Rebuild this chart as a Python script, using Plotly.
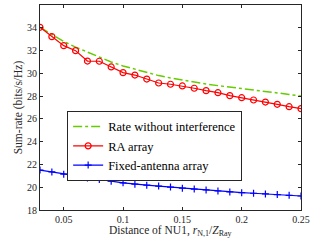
import plotly.graph_objects as go

distance = [0.03, 0.04, 0.05, 0.06, 0.07, 0.08, 0.09, 0.10, 0.11, 0.12, 0.13, 0.14,
            0.15, 0.16, 0.17, 0.18, 0.19, 0.20, 0.21, 0.22, 0.23, 0.24, 0.25]
rate_no_interf = [34.04, 33.40, 32.80, 32.30, 31.85, 31.40, 31.00, 30.65, 30.35, 30.05,
                  29.80, 29.60, 29.40, 29.22, 29.06, 28.92, 28.80, 28.70, 28.56, 28.42,
                  28.28, 28.14, 28.00]
ra_array = [34.04, 33.22, 32.43, 31.99, 31.08, 31.06, 30.56, 30.06, 29.85, 29.50, 29.15,
            29.04, 28.89, 28.69, 28.48, 28.30, 28.04, 27.86, 27.66, 27.48, 27.28, 27.07, 26.90]
fixed_array = [21.51, 21.34, 21.15, 20.99, 20.82, 20.67, 20.53, 20.39, 20.27, 20.18, 20.10,
               20.01, 19.92, 19.84, 19.76, 19.67, 19.59, 19.52, 19.47, 19.41, 19.35, 19.29, 19.23]
x_ticks = [0.05, 0.1, 0.15, 0.2, 0.25]
x_tick_labels = ["0.05", "0.1", "0.15", "0.2", "0.25"]
y_ticks = [18, 20, 22, 24, 26, 28, 30, 32, 34, 36]
x_title = "Distance of NU1, <i>r</i><sub>N,1</sub>/<i>Z</i><sub>Ray</sub>"
y_title = "Sum-rate (bits/s/Hz)"

FONT = "Liberation Serif"
AX = "#262626"

fig = go.Figure()
fig.add_trace(go.Scatter(x=distance, y=rate_no_interf, mode="lines",
                         name="Rate without interference",
                         line=dict(color="#66cc00", width=1.5, dash="dashdot")))
fig.add_trace(go.Scatter(x=distance, y=ra_array, mode="lines+markers",
                         name="RA array",
                         line=dict(color="#ff0000", width=1.2),
                         marker=dict(symbol="circle-open", size=6, color="#ff0000",
                                     line=dict(width=1.2, color="#ff0000"))))
fig.add_trace(go.Scatter(x=distance, y=fixed_array, mode="lines+markers",
                         name="Fixed-antenna array",
                         line=dict(color="#0000ff", width=1.2),
                         marker=dict(symbol="cross-thin", size=5, color="#0000ff",
                                     line=dict(width=1.2, color="#0000ff"))))

axis_common = dict(showline=True, linecolor=AX, linewidth=1, mirror="ticks",
                   ticks="inside", ticklen=3, tickcolor=AX, showgrid=False,
                   zeroline=False, tickfont=dict(family=FONT, size=10, color=AX))

fig.update_xaxes(range=[0.03, 0.25], tickvals=x_ticks, ticktext=x_tick_labels,
                 **axis_common)
fig.update_yaxes(range=[18, 36], tickvals=y_ticks,
                 title=dict(text=y_title,
                            font=dict(family=FONT, size=11.5, color=AX), standoff=1),
                 **axis_common)

fig.add_annotation(text=x_title, xref="paper", yref="paper", x=0.5, y=-0.102,
                   xanchor="center", yanchor="middle", showarrow=False,
                   font=dict(family=FONT, size=11.5, color=AX))

fig.update_layout(
    width=326, height=245,
    margin=dict(l=40, r=25, t=5, b=35),
    paper_bgcolor="white", plot_bgcolor="white",
    showlegend=True,
    legend=dict(x=0.104, y=0.483, xanchor="left", yanchor="top",
                bgcolor="white", bordercolor=AX, borderwidth=1,
                font=dict(family=FONT, size=12.5, color="black"),
                tracegroupgap=0, itemwidth=30),
)

fig.write_html("out.html", config={"displayModeBar": False},
               post_script="document.body.style.margin='0';document.body.style.overflow='hidden';")
